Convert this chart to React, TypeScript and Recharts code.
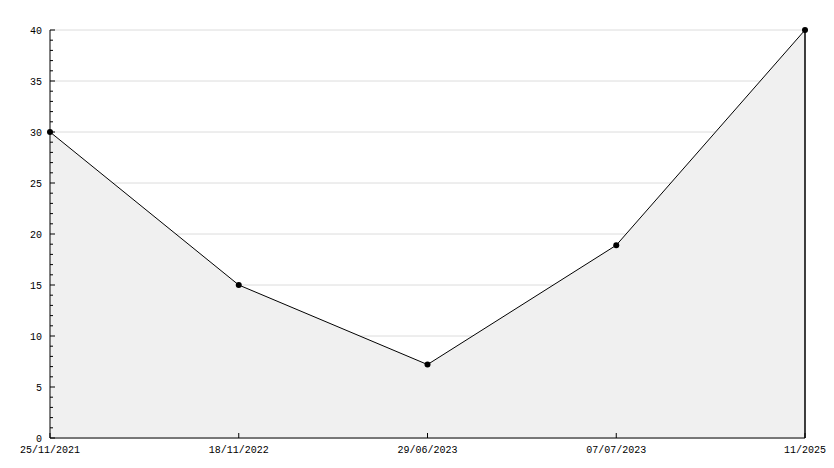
import React from 'react';
import { AreaChart, Area, CartesianGrid, XAxis, YAxis, ReferenceLine } from 'recharts';

const dates = ['25/11/2021', '18/11/2022', '29/06/2023', '07/07/2023', '11/2025'];
const values = [30, 15, 7.2, 18.9, 40];
const yMax = 40;
const majorTicks = [0, 5, 10, 15, 20, 25, 30, 35, 40];
const allTicks = Array.from({ length: 41 }, (_, i) => i);

const data = dates.map((d, i) => ({ date: d, value: values[i] }));

const FONT = '"Liberation Mono", monospace';

const YTick = (props: any) => {
    const { x, y, payload } = props;
    const v = payload.value;
    const major = v % 5 === 0;
    return (
        <g>
            <line x1={x + 8} x2={x + 8 + (major ? 5 : 3)} y1={y} y2={y} stroke="#000" />
            {major && (
                <text x={x} y={y} dy="0.35em" textAnchor="end" fontSize={10} fontFamily={FONT} fill="#000">
                    {v}
                </text>
            )}
        </g>
    );
};

const XTick = (props: any) => {
    const { x, y, payload } = props;
    return (
        <g>
            <line x1={x} x2={x} y1={y - 8} y2={y - 13} stroke="#000" />
            <text x={x} y={y} dy="0.71em" textAnchor="middle" fontSize={10} fontFamily={FONT} fill="#000">
                {payload.value}
            </text>
        </g>
    );
};

const Dot = (props: any) => {
    const { cx, cy } = props;
    return <circle cx={cx} cy={cy} r={3} fill="#000" />;
};

export default function App() {
    return (
        <div style={{ position: 'absolute', left: 0, top: 0, background: '#fff' }}>
            <AreaChart width={834} height={468} data={data} margin={{ top: 30, right: 29, bottom: 0, left: 0 }}>
                <CartesianGrid
                    vertical={false}
                    stroke="#dcdcdc"
                    horizontalCoordinatesGenerator={({ offset }: any) =>
                        majorTicks.map((t) => offset.top + offset.height * (1 - t / yMax))
                    }
                />
                <XAxis
                    dataKey="date"
                    height={30}
                    tickSize={0}
                    tickMargin={8}
                    tick={<XTick />}
                    axisLine={{ stroke: '#000' }}
                    interval={0}
                />
                <YAxis
                    width={50}
                    domain={[0, yMax]}
                    ticks={allTicks}
                    interval={0}
                    tickSize={0}
                    tickMargin={8}
                    tick={<YTick />}
                    axisLine={{ stroke: '#000' }}
                />
                <Area
                    type="linear"
                    dataKey="value"
                    stroke="#000"
                    strokeWidth={1}
                    fill="#f0f0f0"
                    fillOpacity={1}
                    dot={<Dot />}
                    activeDot={false}
                    isAnimationActive={false}
                />
                <ReferenceLine x={dates[dates.length - 1]} stroke="#000" strokeWidth={1.5} />
            </AreaChart>
        </div>
    );
}
